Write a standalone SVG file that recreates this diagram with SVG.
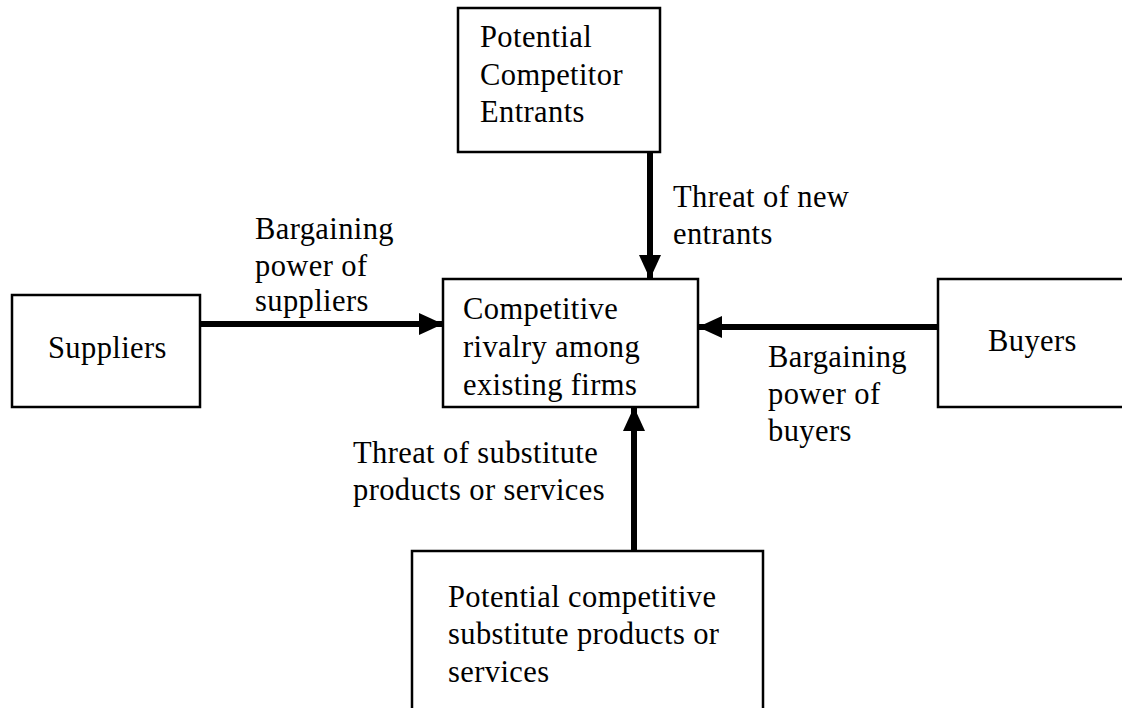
<svg xmlns="http://www.w3.org/2000/svg" width="1122" height="708" viewBox="0 0 1122 708">
  <style>
    .box { fill: #ffffff; stroke: #000000; stroke-width: 2.5; }
    .lbl { font-family: "Liberation Serif", "Times New Roman", serif; font-size: 30.5px; letter-spacing: 0.4px; fill: #000000; }
    .arrow { stroke: #000000; stroke-width: 6; fill: none; marker-end: url(#head); }
  </style>
  <defs>
    <marker id="head" markerUnits="userSpaceOnUse" markerWidth="24" markerHeight="24" viewBox="0 0 24 24" refX="24" refY="12" orient="auto">
      <path d="M0,1 L24,12 L0,23 Z" fill="#000000"/>
    </marker>
  </defs>

  <rect width="1122" height="708" fill="#ffffff"/>

  <g id="connectors">
    <line class="arrow" x1="650" y1="152" x2="650" y2="279"/>
    <line class="arrow" x1="200" y1="324" x2="443" y2="324"/>
    <line class="arrow" x1="938" y1="327" x2="698" y2="327"/>
    <line class="arrow" x1="634" y1="551" x2="634" y2="407"/>
  </g>

  <g id="entrants">
    <rect class="box" x="458" y="8" width="202" height="144"/>
    <text class="lbl" x="480" y="47">Potential</text>
    <text class="lbl" x="480" y="85">Competitor</text>
    <text class="lbl" x="480" y="122">Entrants</text>
  </g>

  <g id="suppliers">
    <rect class="box" x="12" y="295" width="188" height="112"/>
    <text class="lbl" x="48" y="358">Suppliers</text>
  </g>

  <g id="rivalry">
    <rect class="box" x="443" y="279" width="255" height="128"/>
    <text class="lbl" x="463" y="319">Competitive</text>
    <text class="lbl" x="463" y="357">rivalry among</text>
    <text class="lbl" x="463" y="395">existing firms</text>
  </g>

  <g id="buyers">
    <rect class="box" x="938" y="279" width="200" height="128"/>
    <text class="lbl" x="988" y="351">Buyers</text>
  </g>

  <g id="substitutes">
    <rect class="box" x="412" y="551" width="351" height="170"/>
    <text class="lbl" x="448" y="607">Potential competitive</text>
    <text class="lbl" x="448" y="644">substitute products or</text>
    <text class="lbl" x="448" y="682">services</text>
  </g>

  <g id="labels">
    <text class="lbl" x="673" y="207">Threat of new</text>
    <text class="lbl" x="673" y="244">entrants</text>
    <text class="lbl" x="255" y="239">Bargaining</text>
    <text class="lbl" x="255" y="276">power of</text>
    <text class="lbl" x="255" y="311">suppliers</text>
    <text class="lbl" x="768" y="367">Bargaining</text>
    <text class="lbl" x="768" y="404">power of</text>
    <text class="lbl" x="768" y="441">buyers</text>
    <text class="lbl" x="353" y="463">Threat of substitute</text>
    <text class="lbl" x="353" y="500">products or services</text>
  </g>
</svg>
